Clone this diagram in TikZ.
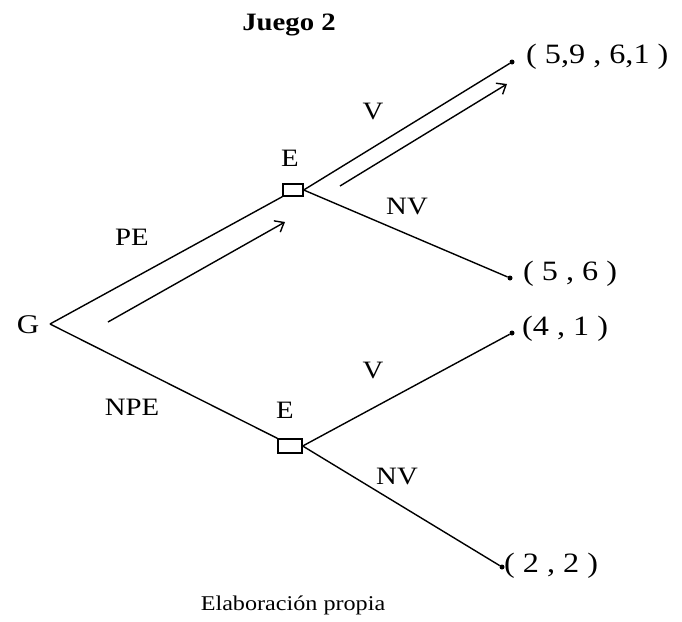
\documentclass[tikz,border=0pt]{standalone}
\usepackage{fontspec}
\setmainfont{Liberation Serif}[FakeStretch=1.15]
\usetikzlibrary{arrows.meta}
\begin{document}
\begin{tikzpicture}[x=1pt,y=-1pt,
  edge/.style={line width=1.4pt},
  move/.style={line width=1.4pt,-{Straight Barb[length=8pt,width=13pt,line width=1.4pt]}},
  dec/.style={draw,line width=1.4pt,fill=white,inner sep=0pt},
  term/.style={circle,fill=black,inner sep=0pt,minimum size=5pt},
  lab/.style={font=\fontsize{25}{27}\selectfont,inner sep=0pt},
  pay/.style={font=\fontsize{28}{30}\selectfont,inner sep=0pt,anchor=west}]
\useasboundingbox (0,0) rectangle (682,621);
% title and caption
\node[font=\bfseries\fontsize{25}{27}\selectfont,inner sep=0pt] (title) at (289,25) {Juego 2};
\node[font=\fontsize{21}{23}\selectfont,inner sep=0pt] (cap) at (293,605) {Elaboración propia};
% root
\coordinate (G) at (50,324);
\node[font=\fontsize{27}{29}\selectfont,inner sep=0pt] (Glab) at (28,325) {G};
% decision boxes
\node[dec,minimum width=20pt,minimum height=12pt] (E1) at (293,190) {};
\node[dec,minimum width=24pt,minimum height=14pt] (E2) at (290,446) {};
\node[lab] (E1lab) at (290,158) {E};
\node[lab] (E2lab) at (285,410) {E};
% terminals
\node[term] (t1) at (512,62) {};
\node[term] (t2) at (510,278) {};
\node[term] (t3) at (512,333) {};
\node[term] (t4) at (502,567) {};
\node[pay] (p1) at (526,57) {( 5,9 , 6,1 )};
\node[pay] (p2) at (523,274) {( 5 , 6 )};
\node[pay] (p3) at (522,329) {(4 , 1 )};
\node[pay] (p4) at (504,566) {( 2 , 2 )};
% edges
\draw[edge] (G) -- (E1.south west);
\draw[edge] (G) -- (E2.north west);
\draw[edge] (E1.east) -- (t1);
\draw[edge] (E1.east) -- (t2);
\draw[edge] (E2.east) -- (t3);
\draw[edge] (E2.east) -- (t4);
% edge labels
\node[lab] (lPE) at (132,237) {PE};
\node[lab] (lNPE) at (132,407) {NPE};
\node[lab] (lV1) at (373,112) {V};
\node[lab] (lNV1) at (407,207) {NV};
\node[lab] (lV2) at (373,370) {V};
\node[lab] (lNV2) at (397,476) {NV};
% equilibrium path arrows
\coordinate (a1s) at (108,322);
\coordinate (a1e) at (285,222);
\coordinate (a2s) at (340,186);
\coordinate (a2e) at (507,84);
\draw[move] (a1s) -- (a1e);
\draw[move] (a2s) -- (a2e);
\end{tikzpicture}
\end{document}
